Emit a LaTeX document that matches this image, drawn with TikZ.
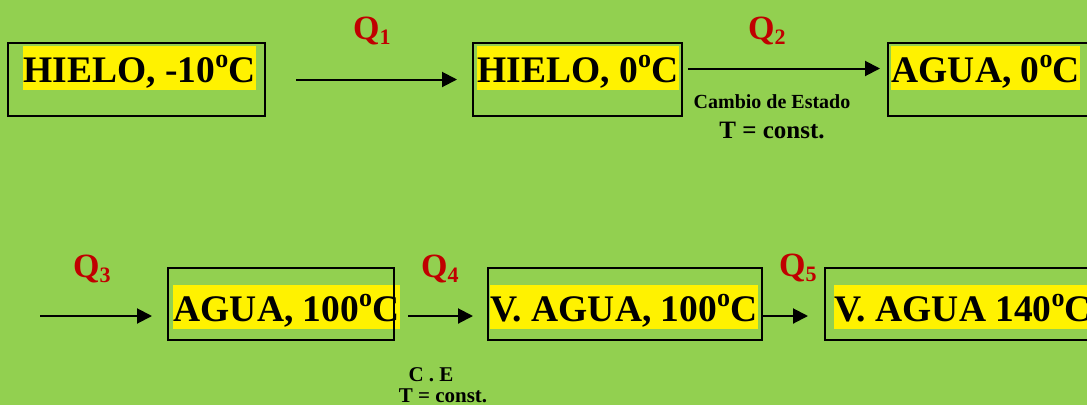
\documentclass[tikz,border=0pt]{standalone}
\usepackage{fontspec}
\setmainfont{Liberation Serif}
\usetikzlibrary{arrows.meta}
\definecolor{bggreen}{HTML}{92D050}
\definecolor{qred}{HTML}{C00000}
\newcommand{\qheat}[1]{Q\raisebox{-5pt}{\fontsize{22}{22}\selectfont#1}}
\newcommand{\grado}{\raisebox{15pt}{\fontsize{26}{26}\selectfont o}}

\begin{document}
\begin{tikzpicture}[x=1pt,y=-1pt,>={Triangle[length=15pt,width=15pt]},
  statebox/.style={draw,line width=2pt,minimum height=73pt,inner sep=0pt,anchor=north west},
  hl/.style={fill=yellow,inner xsep=0.5pt,inner ysep=0pt,text height=36pt,text depth=8pt,
    anchor=north west,font=\fontsize{37.5}{44}\selectfont\bfseries},
  qlab/.style={text=qred,inner sep=0pt,anchor=base west,font=\fontsize{34}{40}\selectfont\bfseries},
  note/.style={inner sep=0pt,anchor=base,font=\bfseries},
  flow/.style={->,line width=2pt}]
\useasboundingbox (0,0) rectangle (1087,405);
\clip (0,0) rectangle (1087,405);
\fill[bggreen] (0,0) rectangle (1087,405);
% estados, fila de arriba
\node[hl] (t1) at (23,46) {HIELO, -10\grado C};
\node[hl] (t2) at (477,46) {HIELO, 0\grado C};
\node[hl] (t3) at (891,46) {AGUA, 0\grado C};
\node[statebox,minimum width=257pt] (b1) at (7,42) {};
\node[statebox,minimum width=209pt] (b2) at (472,42) {};
\node[statebox,minimum width=230pt] (b3) at (887,42) {};
% estados, fila de abajo
\node[hl] (t4) at (173,285) {AGUA, 100\grado C};
\node[hl] (t5) at (490,285) {V. AGUA, 100\grado C};
\node[hl] (t6) at (834,285) {V. AGUA 140\grado C};
\node[statebox,minimum width=226pt,minimum height=72pt] (b4) at (167,267) {};
\node[statebox,minimum width=274pt,minimum height=72pt] (b5) at (487,267) {};
\node[statebox,minimum width=280pt,minimum height=72pt] (b6) at (824,267) {};
% flechas
\draw[flow,shorten <=30pt,shorten >=15pt] (b1) -- (b2);
\draw[flow,shorten <=5pt,shorten >=7pt] ([yshift=11pt]b2.east) -- ([yshift=11pt]b3.west);
\coordinate (in3) at (40,316);
\draw[flow,shorten >=15pt] (in3) -- ([yshift=-12pt]b4.west);
\draw[flow,shorten <=13pt,shorten >=14pt] ([yshift=-12pt]b4.east) -- ([yshift=-12pt]b5.west);
\draw[flow,shorten >=16pt] ([yshift=-12pt]b5.east) -- ([yshift=-12pt]b6.west);
% calores
\node[qlab] (q1) at (353,39) {\qheat{1}};
\node[qlab] (q2) at (748,39) {\qheat{2}};
\node[qlab] (q3) at (73,277) {\qheat{3}};
\node[qlab] (q4) at (421,277) {\qheat{4}};
\node[qlab] (q5) at (779,276) {\qheat{5}};
% notas
\node[note,font=\fontsize{20}{24}\selectfont\bfseries] (ce1) at (772,108) {Cambio de Estado};
\node[note,font=\fontsize{25}{30}\selectfont\bfseries] (tc1) at (772,138) {T = const.};
\node[note,font=\fontsize{21}{25}\selectfont\bfseries] (ce2) at (431,381) {C . E};
\node[note,font=\fontsize{21}{25}\selectfont\bfseries] (tc2) at (443,402) {T = const.};
\end{tikzpicture}
\end{document}
